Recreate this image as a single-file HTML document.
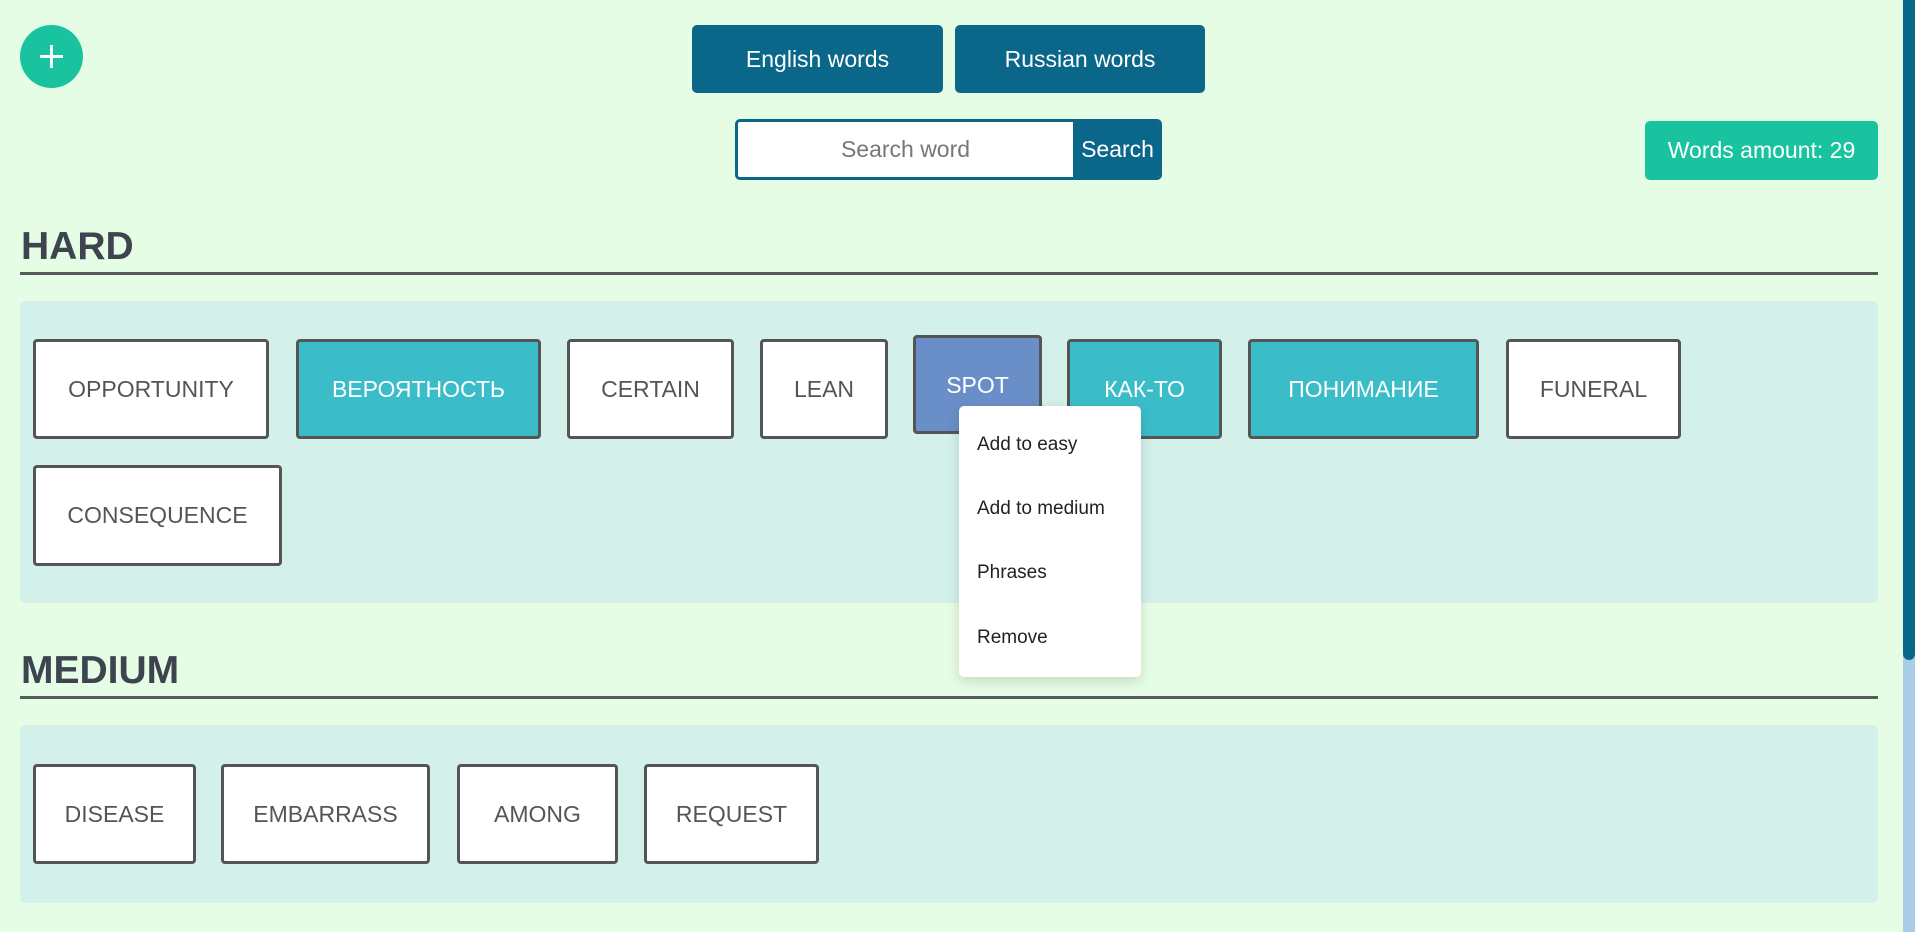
<!DOCTYPE html>
<html><head><meta charset="utf-8"><style>
*{box-sizing:border-box;margin:0;padding:0}
body{width:1915px;height:932px;background:#e6fde5;font-family:"Liberation Sans",sans-serif;position:relative;overflow:hidden}
.a{position:absolute}
.btn{background:#0a6789;color:#fff;border-radius:5px;font-size:23px;display:flex;align-items:center;justify-content:center}
.h{font-weight:bold;font-size:39px;color:#3d4450;left:21px}
.ln{left:20px;width:1858px;height:3px;background:#555b58}
.panel{left:20px;width:1858px;background:#d3f1ea;border-radius:5px}
.w{border:3px solid #555;border-radius:4px;background:#fff;color:#555;font-size:23px;display:flex;align-items:center;justify-content:center}
.c{background:#3bbdc9;color:#fff}
.mi{left:977px;font-size:19px;color:#222}
</style></head><body>
<div class="a" style="left:20px;top:25px;width:63px;height:63px;border-radius:50%;background:#19c39f"><div class="a" style="left:20px;top:30px;width:23px;height:3px;background:#fff"></div><div class="a" style="left:30px;top:20px;width:3px;height:23px;background:#fff"></div></div>
<div class="a btn" style="left:692px;top:25px;width:251px;height:68px">English words</div>
<div class="a btn" style="left:955px;top:25px;width:250px;height:68px">Russian words</div>
<div class="a" style="left:735px;top:119px;width:427px;height:61px;border:3px solid #0a6789;border-radius:5px;background:#fff;overflow:hidden">
<div class="a" style="left:0;top:0;width:335px;height:55px;display:flex;align-items:center;justify-content:center;color:#777;font-size:23px">Search word</div>
<div class="a btn" style="left:335px;top:0;width:89px;height:55px;border-radius:0">Search</div></div>
<div class="a btn" style="left:1645px;top:121px;width:233px;height:59px;background:#19c39f;font-size:23px">Words amount: 29</div>
<div class="a h" style="top:225px">HARD</div>
<div class="a ln" style="top:272px"></div>
<div class="a panel" style="top:301px;height:302px"></div>
<div class="a w" style="left:33px;top:339px;width:236px;height:100px">OPPORTUNITY</div>
<div class="a w c" style="left:296px;top:339px;width:245px;height:100px">ВЕРОЯТНОСТЬ</div>
<div class="a w" style="left:567px;top:339px;width:167px;height:100px">CERTAIN</div>
<div class="a w" style="left:760px;top:339px;width:128px;height:100px">LEAN</div>
<div class="a w" style="left:913px;top:335px;width:129px;height:99px;background:#6a8fc8;color:#fff;align-items:flex-start;padding-top:34px">SPOT</div>
<div class="a w c" style="left:1067px;top:339px;width:155px;height:100px">КАК-ТО</div>
<div class="a w c" style="left:1248px;top:339px;width:231px;height:100px">ПОНИМАНИЕ</div>
<div class="a w" style="left:1506px;top:339px;width:175px;height:100px">FUNERAL</div>
<div class="a w" style="left:33px;top:465px;width:249px;height:101px">CONSEQUENCE</div>
<div class="a h" style="top:649px">MEDIUM</div>
<div class="a ln" style="top:696px"></div>
<div class="a panel" style="top:725px;height:178px"></div>
<div class="a w" style="left:33px;top:764px;width:163px;height:100px">DISEASE</div>
<div class="a w" style="left:221px;top:764px;width:209px;height:100px">EMBARRASS</div>
<div class="a w" style="left:457px;top:764px;width:161px;height:100px">AMONG</div>
<div class="a w" style="left:644px;top:764px;width:175px;height:100px">REQUEST</div>
<div class="a" style="left:959px;top:406px;width:182px;height:271px;background:#fff;border-radius:5px;box-shadow:0 4px 12px rgba(0,0,0,0.15)"></div>
<div class="a mi" style="top:434px">Add to easy</div>
<div class="a mi" style="top:498px">Add to medium</div>
<div class="a mi" style="top:562px">Phrases</div>
<div class="a mi" style="top:627px">Remove</div>
<div class="a" style="left:1903px;top:0;width:12px;height:932px;background:#a9cde6"></div>
<div class="a" style="left:1903px;top:0;width:12px;height:660px;background:#0a6789;border-radius:0 0 6px 6px"></div>
</body></html>
